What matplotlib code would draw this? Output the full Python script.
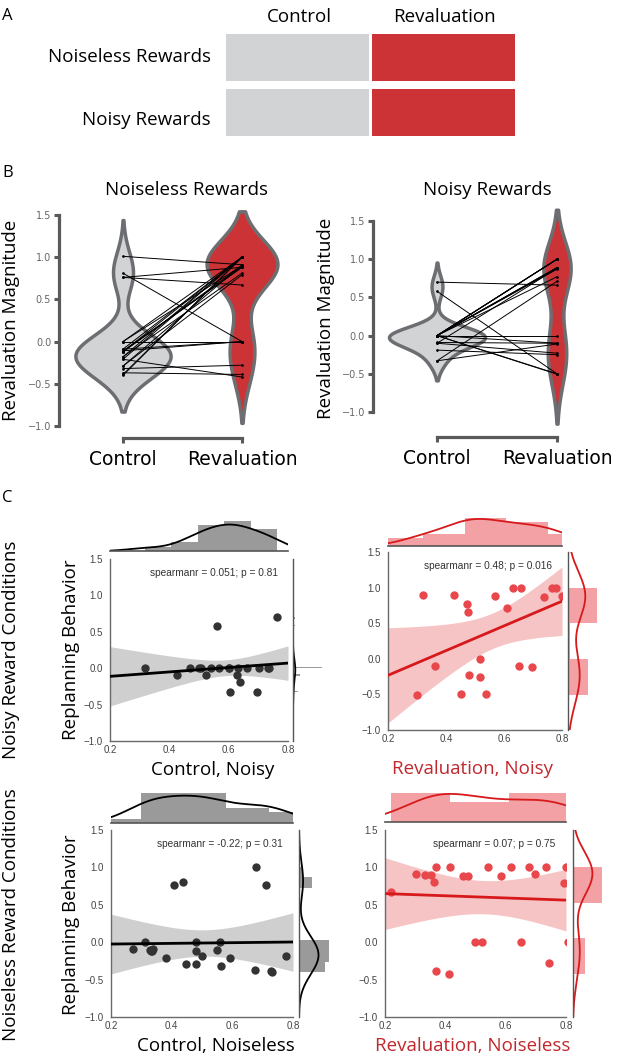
import numpy as np
import matplotlib
matplotlib.use('Agg')
import matplotlib.pyplot as plt

W, H = 617, 1060

# ---- data ----
design_rows = ['Noiseless Rewards', 'Noisy Rewards']
design_cols = ['Control', 'Revaluation']

# revaluation magnitude per subject (paired), noiseless rewards
noiseless_ctrl = [1.01, 0.81, 0.76, 0.76, 0.0, 0.0, 0.0, -0.09, -0.09, -0.11, -0.11, -0.12,
                  -0.12, -0.12, -0.18, -0.18, -0.21, -0.21, -0.29, -0.29, -0.32, -0.37, -0.39, -0.40]
noiseless_reval = [0.91, 0.0, 0.88, 0.67, 0.0, 1.0, 0.9, 0.0, 1.0, 0.88, 0.0, 0.9,
                   1.0, 0.88, 0.81, 1.0, -0.42, 1.0, 0.91, 0.79, -0.28, -0.39, 1.0, 1.0]
# x of panel C (same subjects)
noiseless_ctrl_x = [0.679, 0.439, 0.409, 0.710, 0.311, 0.481, 0.559, 0.340, 0.272, 0.330, 0.550, 0.335,
                    0.481, 0.332, 0.501, 0.776, 0.380, 0.593, 0.446, 0.481, 0.564, 0.676, 0.726, 0.730]
noiseless_reval_x = [0.303, 0.497, 0.459, 0.221, 0.523, 0.368, 0.331, 0.652, 0.415, 0.475, 0.805, 0.351,
                     0.543, 0.583, 0.362, 0.617, 0.413, 0.677, 0.696, 0.793, 0.743, 0.368, 0.734, 0.800]

# noisy rewards
noisy_ctrl = [0.0, -0.09, 0.0, 0.0, -0.10, 0.0, 0.58, 0.0, 0.0, -0.33, -0.10,
              0.0, -0.19, 0.0, -0.33, 0.0, 0.0, 0.0, 0.70, 0.0, 0.0]
noisy_reval = [0.89, -0.10, 1.0, -0.50, 0.88, 0.87, -0.50, 1.0, 0.0, 0.71, -0.23,
               0.77, -0.25, 1.0, -0.11, 0.89, -0.505, 1.0, 0.66, 0.88, -0.10]
noisy_ctrl_x = [0.318, 0.427, 0.470, 0.507, 0.523, 0.541, 0.561, 0.569, 0.600, 0.604, 0.628,
                0.632, 0.639, 0.662, 0.694, 0.701, 0.733, 0.736, 0.764, 0.600, 0.500]
noisy_reval_x = [0.321, 0.363, 0.631, 0.453, 0.568, 0.738, 0.539, 0.659, 0.516, 0.609, 0.479,
                 0.472, 0.518, 0.764, 0.698, 0.428, 0.300, 0.780, 0.477, 0.800, 0.652]

spearman_labels = ['spearmanr = 0.051; p = 0.81', 'spearmanr = 0.48; p = 0.016',
                   'spearmanr = -0.22; p = 0.31', 'spearmanr = 0.07; p = 0.75']

# ---- style ----
TXT = 'Open Sans'
NUM = 'Liberation Sans'
GRAY = '#d2d3d5'
RED = '#cc3336'
LABEL_RED = '#c1272d'
SPINE = '#5a5a5c'

fig = plt.figure(figsize=(W / 100, H / 100), dpi=100)


def px_axes(left, top, right, bottom):
    return fig.add_axes([left / W, 1 - bottom / H, (right - left) / W, (bottom - top) / H])


def ftext(x, y, s, **kw):
    kw.setdefault('family', TXT)
    return fig.text(x / W, 1 - y / H, s, **kw)


def kde(data, grid, bw):
    d = (grid[:, None] - data[None, :]) / bw
    return np.exp(-0.5 * d ** 2).sum(1) / (len(data) * bw * np.sqrt(2 * np.pi))


def scott_bw(d):
    return d.std(ddof=1) * len(d) ** (-0.2)


# ---- A: design ----
axA = px_axes(226, 34, 515, 136)
for r in range(2):
    axA.barh(r, 0.99, left=0, height=0.855, color=GRAY)
    axA.barh(r, 0.99, left=1.01, height=0.855, color=RED)
axA.set_xlim(0, 2)
axA.set_ylim(1.4275, -0.4275)
axA.axis('off')
for cx, lab in zip([299, 444], design_cols):
    ftext(cx, 22, lab, ha='center', va='baseline', fontsize=13.5)
for cy, lab in zip([62, 125], design_rows):
    ftext(211, cy, lab, ha='right', va='baseline', fontsize=13.5)

for x, y, s in [(2, 20, 'A'), (2, 177, 'B'), (2, 502, 'C')]:
    ftext(x, y, s, ha='left', va='baseline', fontsize=12)


# ---- B: violins ----
def violin_panel(box, ylim, offs, ctrl, reval, title, title_x, ylab_x):
    ax = px_axes(*box)
    data = [np.array(ctrl), np.array(reval)]
    grids, dens = [], []
    for d in data:
        bw = scott_bw(d)
        g = np.linspace(d.min() - 2 * bw, d.max() + 2 * bw, 300)
        grids.append(g)
        dens.append(kde(d, g, bw))
    peak = max(dd.max() for dd in dens)
    for i, (g, dd, c) in enumerate(zip(grids, dens, [GRAY, RED])):
        hw = dd / peak * 0.4
        pc = ax.fill_betweenx(g, i - hw, i + hw, facecolor=c, edgecolor='#6d6e71', lw=2.5, zorder=1)
        pc.set_joinstyle('round')
    for a, b in zip(ctrl, reval):
        ax.plot([0, 1], [a, b], color='k', lw=0.7, marker='o', ms=0.9, zorder=2)
    ax.set_xlim(-0.5, 1.5)
    ax.set_ylim(*ylim)
    ax.set_xticks([0, 1])
    ax.set_xticklabels(design_cols)
    ax.set_yticks([-1.0, -0.5, 0.0, 0.5, 1.0, 1.5])
    ax.set_yticklabels(['\u22121.0', '\u22120.5', '0.0', '0.5', '1.0', '1.5'])
    ax.tick_params(length=3.6, width=2.2, color=SPINE)
    ax.tick_params(axis='x', pad=5, labelsize=13.5, labelcolor='black')
    ax.tick_params(axis='y', pad=2, labelsize=7, labelcolor='#666666')
    for lab in ax.get_xticklabels():
        lab.set_family(TXT)
    for lab in ax.get_yticklabels():
        lab.set_family(NUM)
    for s in ['top', 'right']:
        ax.spines[s].set_visible(False)
    ax.spines['left'].set_position(('outward', offs[0]))
    ax.spines['bottom'].set_position(('outward', offs[1]))
    ax.spines['left'].set_bounds(-1.0, 1.5)
    ax.spines['bottom'].set_bounds(0, 1)
    for s in ['left', 'bottom']:
        ax.spines[s].set_linewidth(2.3)
        ax.spines[s].set_color(SPINE)
        ax.spines[s].set_capstyle('projecting')
    ax.patch.set_alpha(0)
    ftext(title_x, 195, title, ha='center', va='baseline', fontsize=13.5)
    ftext(ylab_x, (box[1] + box[3]) / 2 + 2, 'Revaluation Magnitude', ha='center', va='center',
          rotation=90, fontsize=13.5)
    return ax


violin_panel((63.5, 202.3, 301.5, 434.4), (-1.1, 1.65), (3.3, 2.7),
             noiseless_ctrl, noiseless_reval, 'Noiseless Rewards', 186, 11)
violin_panel((377, 205.7, 617, 427.3), (-1.2, 1.7), (3.0, 7.0),
             noisy_ctrl, noisy_reval, 'Noisy Rewards', 487, 326)


# ---- C: joint plots ----
BLACK_SET = dict(pt='#333333', line='black', ci='#cfcfcf', hist='#9a9a9a', kde='black')
RED_SET = dict(pt='#e8474b', line='#d7191c', ci='#f7c4c5', hist='#f3a1a4', kde='#d7191c')


def joint_panel(box, top_box, right_box, x, y, cs, stat, xlabel, xcol, xlab_x, xlab_y, tbins, rbins):
    x = np.array(x)
    y = np.array(y)
    ax = px_axes(*box)
    ax.set_xlim(0.2, 0.8)
    ax.set_ylim(-1.0, 1.5)
    # regression with 95% band
    slope, icpt = np.polyfit(x, y, 1)
    xs = np.linspace(0.2, 0.8, 100)
    fit = icpt + slope * xs
    n = len(x)
    resid = y - (icpt + slope * x)
    s = np.sqrt((resid ** 2).sum() / (n - 2))
    se = s * np.sqrt(1 / n + (xs - x.mean()) ** 2 / ((x - x.mean()) ** 2).sum())
    ax.fill_between(xs, fit - 2.08 * se, fit + 2.08 * se, color=cs['ci'], lw=0, zorder=1)
    ax.scatter(x, y, s=36, color=cs['pt'], lw=0, zorder=2)
    ax.plot(xs, fit, color=cs['line'], lw=2, zorder=3)
    ax.set_xticks([0.2, 0.4, 0.6, 0.8])
    ax.set_yticks([-1.0, -0.5, 0.0, 0.5, 1.0, 1.5])
    ax.set_yticklabels(['\u22121.0', '\u22120.5', '0.0', '0.5', '1.0', '1.5'])
    for lab in ax.get_xticklabels() + ax.get_yticklabels():
        lab.set_family(NUM)
    ax.tick_params(length=0, labelsize=7, labelcolor='#444444')
    ax.tick_params(axis='x', pad=3)
    ax.tick_params(axis='y', pad=5)
    for sp in ['top', 'right']:
        ax.spines[sp].set_visible(False)
    for sp in ['left', 'bottom']:
        ax.spines[sp].set_color('#6a6a6a')
        ax.spines[sp].set_linewidth(1.0)
    ax.annotate(stat, xy=(1, 1), xycoords='axes fraction', xytext=(-7.5, -10),
                textcoords='offset points', ha='right', va='center', family=NUM,
                fontsize=7.3, color='#333333')

    # top marginal
    axt = px_axes(*top_box)
    hv, _, _ = axt.hist(x, bins=tbins, density=True, color=cs['hist'], lw=0)
    gx = np.linspace(0.2, 0.8, 200)
    kx = kde(x, gx, scott_bw(x))
    axt.plot(gx, kx, color=cs['kde'], lw=1.3)
    axt.set_xlim(0.2, 0.8)
    axt.set_ylim(0, max(hv.max(), kx.max()) * 1.02)
    axt.set_xticks([])
    axt.set_yticks([])
    for sp in ['top', 'right', 'left']:
        axt.spines[sp].set_visible(False)
    axt.spines['bottom'].set_color('#555555')
    axt.spines['bottom'].set_linewidth(1.2)

    # right marginal
    axr = px_axes(*right_box)
    hv, _, _ = axr.hist(y, bins=rbins, density=True, color=cs['hist'], lw=0,
                        orientation='horizontal')
    gy = np.linspace(-1.0, 1.5, 300)
    ky = kde(y, gy, scott_bw(y))
    axr.plot(ky, gy, color=cs['kde'], lw=1.3)
    axr.set_ylim(-1.0, 1.5)
    axr.set_xlim(0, max(hv.max(), ky.max()) * 1.02)
    axr.set_xticks([])
    axr.set_yticks([])
    for sp in ['top', 'right', 'bottom']:
        axr.spines[sp].set_visible(False)
    axr.spines['left'].set_color('#555555')
    axr.spines['left'].set_linewidth(1.0)

    ftext(xlab_x, xlab_y, xlabel, ha='center', va='baseline', fontsize=13.5, color=xcol)
    return ax


joint_panel((110, 559, 288, 741), (110, 520, 288, 551), (293, 559, 323, 741),
            noisy_ctrl_x, noisy_ctrl, BLACK_SET, spearman_labels[0],
            'Control, Noisy', 'black', 213, 775, 5, 50)
joint_panel((388, 552, 562, 730), (388, 517, 562, 546), (568, 552, 598, 730),
            noisy_reval_x, noisy_reval, RED_SET, spearman_labels[1],
            'Revaluation, Noisy', LABEL_RED, 472, 774, np.linspace(0.178, 0.895, 6), 3)
joint_panel((111, 830, 293, 1017), (111, 792, 293, 823), (299, 830, 330, 1017),
            noiseless_ctrl_x, noiseless_ctrl, BLACK_SET, spearman_labels[2],
            'Control, Noiseless', 'black', 216, 1051, np.linspace(0.16, 0.86, 6), 10)
joint_panel((385, 830, 566, 1017), (385, 792, 566, 822), (573, 830, 603, 1017),
            noiseless_reval_x, noiseless_reval, RED_SET, spearman_labels[3],
            'Revaluation, Noiseless', LABEL_RED, 473, 1051, 3, 3)

ftext(71, 650, 'Replanning Behavior', rotation=90, ha='center', va='center', fontsize=13.5)
ftext(71, 925, 'Replanning Behavior', rotation=90, ha='center', va='center', fontsize=13.5)
ftext(11, 650, 'Noisy Reward Conditions', rotation=90, ha='center', va='center', fontsize=13.5)
ftext(11, 915, 'Noiseless Reward Conditions', rotation=90, ha='center', va='center', fontsize=13.5)

fig.savefig('out.png', dpi=100)
